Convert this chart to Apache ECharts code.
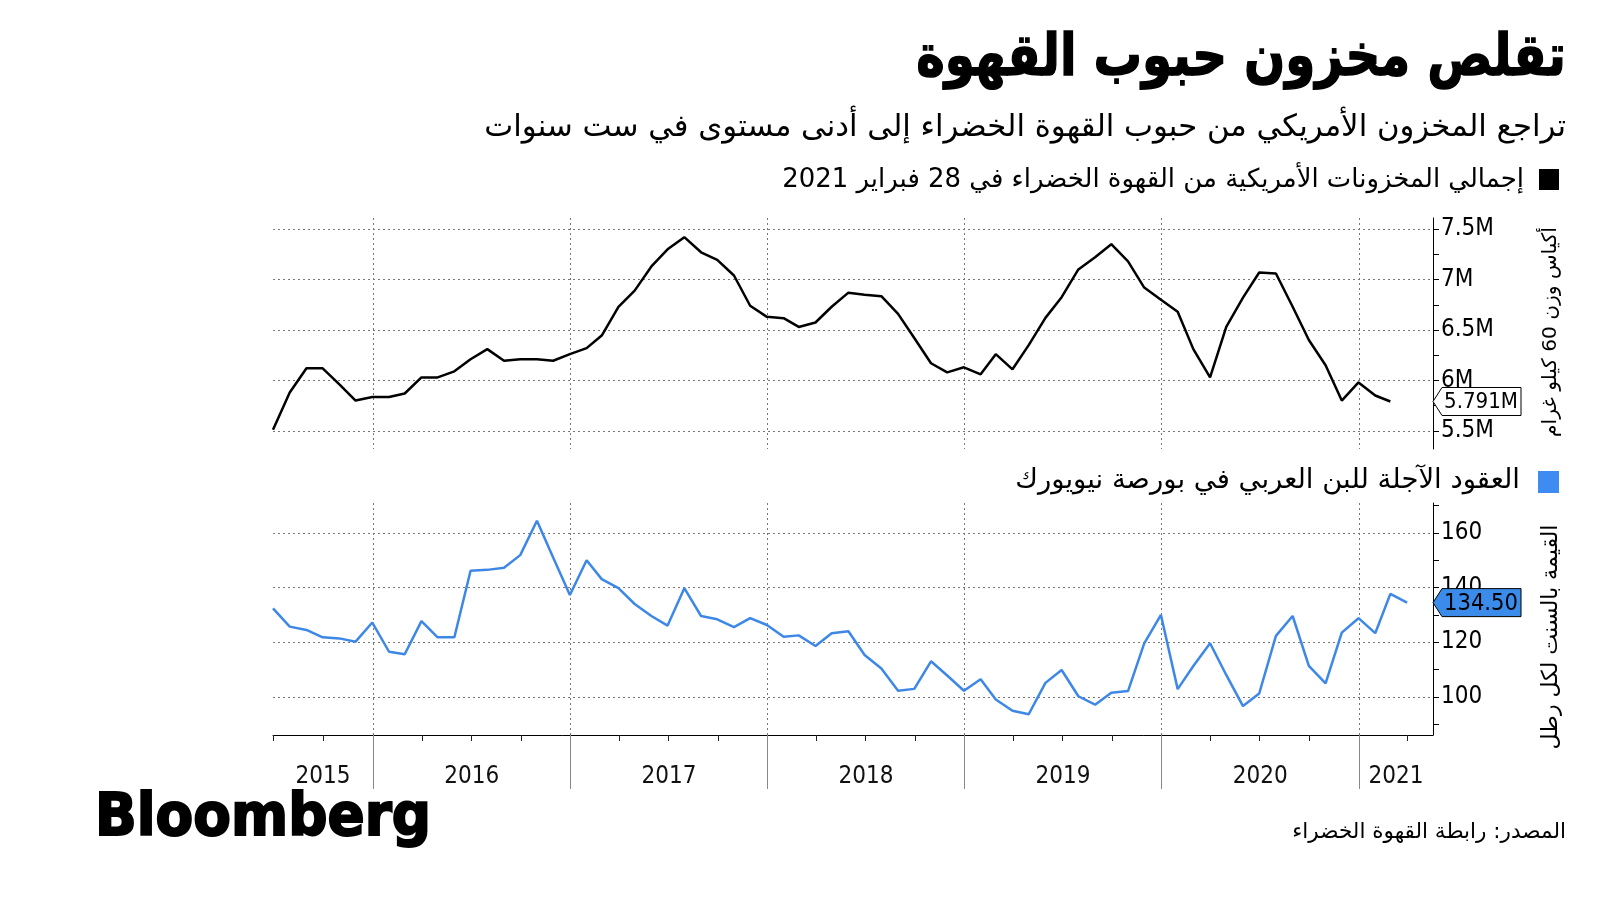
<!DOCTYPE html>
<html><head><meta charset="utf-8">
<script src="https://cdn.jsdelivr.net/npm/echarts@6/dist/echarts.min.js"></script>
<style>html,body{margin:0;padding:0;background:#fff}#c{width:1600px;height:900px}</style>
</head><body><div id="c"></div>
<script>
// ---------------- DATA ----------------
const months = [
  '2015-06','2015-07','2015-08','2015-09','2015-10','2015-11','2015-12',
  '2016-01','2016-02','2016-03','2016-04','2016-05','2016-06','2016-07','2016-08','2016-09','2016-10','2016-11','2016-12',
  '2017-01','2017-02','2017-03','2017-04','2017-05','2017-06','2017-07','2017-08','2017-09','2017-10','2017-11','2017-12',
  '2018-01','2018-02','2018-03','2018-04','2018-05','2018-06','2018-07','2018-08','2018-09','2018-10','2018-11','2018-12',
  '2019-01','2019-02','2019-03','2019-04','2019-05','2019-06','2019-07','2019-08','2019-09','2019-10','2019-11','2019-12',
  '2020-01','2020-02','2020-03','2020-04','2020-05','2020-06','2020-07','2020-08','2020-09','2020-10','2020-11','2020-12',
  '2021-01','2021-02','2021-03'
];
// US green coffee stocks, million 60-kg bags (Jun 2015 - Feb 2021)
const stockValues = [
  5.51, 5.88, 6.12, 6.12, 5.96, 5.80, 5.835,
  5.835, 5.87, 6.03, 6.03, 6.09, 6.21, 6.31, 6.195, 6.21, 6.21, 6.195, 6.26,
  6.32, 6.445, 6.73, 6.89, 7.13, 7.30, 7.42, 7.27, 7.195, 7.04, 6.74, 6.63,
  6.617, 6.53, 6.574, 6.73, 6.87, 6.85, 6.835, 6.66, 6.42, 6.17, 6.08, 6.13,
  6.06, 6.26, 6.11, 6.35, 6.62, 6.825, 7.10, 7.22, 7.35, 7.18, 6.92, 6.80,
  6.68, 6.31, 6.03, 6.53, 6.82, 7.07, 7.06, 6.73, 6.40, 6.15, 5.80, 5.98,
  5.85, 5.791
];
// NY arabica futures, US cents per pound (Jun 2015 - Mar 2021)
const futuresValues = [
  132.4, 125.7, 124.5, 121.8, 121.4, 120.2, 127.2,
  116.5, 115.6, 127.7, 121.8, 121.8, 146.2, 146.5, 147.3, 151.9, 164.5, 151.0, 137.3,
  150.0, 143.1, 139.8, 134.0, 129.6, 126.1, 139.8, 129.6, 128.4, 125.5, 128.8, 126.3,
  122.0, 122.5, 118.6, 123.3, 124.0, 115.3, 110.4, 102.2, 102.9, 113.0, 107.8, 102.2,
  106.4, 99.0, 94.9, 93.6, 105.1, 109.8, 100.2, 97.1, 101.5, 102.1, 119.6, 130.0,
  102.8, 111.3, 119.6, 108.0, 96.6, 101.2, 122.3, 129.6, 111.3, 104.9, 123.5, 128.8,
  123.3, 137.7, 134.5
];
const stockTicks = [5.5, 5.75, 6, 6.25, 6.5, 6.75, 7, 7.25, 7.5];
const stockLabels = [5.5, 6, 6.5, 7, 7.5];
const futuresTicks = [90, 100, 110, 120, 130, 140, 150, 160, 170];
const futuresLabels = [100, 120, 140, 160];
const yearLabels = ['2015', '2016', '2017', '2018', '2019', '2020', '2021'];
const stockLastLabel = '5.791M';
const futuresLastLabel = '134.50';

const titleText = 'تقلص مخزون حبوب القهوة';
const subtitleText = 'تراجع المخزون الأمريكي من حبوب القهوة الخضراء إلى أدنى مستوى في ست سنوات';
const legend1Text = 'إجمالي المخزونات الأمريكية من القهوة الخضراء في 28 فبراير 2021';
const legend2Text = 'العقود الآجلة للبن العربي في بورصة نيويورك';
const axis1Name = 'أكياس وزن 60 كيلو غرام';
const axis2Name = 'القيمة بالسنت لكل رطل';
const sourceText = 'المصدر: رابطة القهوة الخضراء';
const logoText = 'Bloomberg';

// ---------------- HELPERS ----------------
function monthEnd(m) { const [y, mo] = m.split('-').map(Number); return new Date(y, mo, 0).getTime(); }
const xMin = monthEnd('2015-06');
const xMax = new Date(2021, 4, 18).getTime();
const years = yearLabels.map(Number);
const yearStarts = years.slice(1).map(y => new Date(y, 0, 1).getTime());
const quarterStarts = [];
years.forEach(y => [0, 3, 6, 9].forEach(q => { const t = new Date(y, q, 1).getTime(); if (t >= xMin && t <= xMax) quarterStarts.push(t); }));
const yearMids = years.map(y => {
  const s = Math.max(new Date(y, 0, 1).getTime(), xMin);
  const e = Math.min(new Date(y + 1, 0, 1).getTime(), xMax);
  return Math.round((s + e) / 2);
});
const stockData = stockValues.map((v, i) => [monthEnd(months[i]), v]);
const futuresData = futuresValues.map((v, i) => [monthEnd(months[i]), v]);

const NARROW = '"Liberation Sans Narrow", "DejaVu Sans Condensed", sans-serif';
const AR = '"DejaVu Sans", sans-serif';
const GRID_COLOR = '#777';
const BLUE = '#3d87e6';

const gridL = 273, gridR = 167;
const chart = echarts.init(document.getElementById('c'));

function hiddenXAxis(gridIndex, extra) {
  return Object.assign({
    type: 'value', gridIndex, min: xMin, max: xMax, position: 'bottom',
    axisLine: { show: false, onZero: false }, axisTick: { show: false }, axisLabel: { show: false }, splitLine: { show: false }
  }, extra);
}
const dotted = { show: true, lineStyle: { color: GRID_COLOR, type: [2, 3], width: 1 } };

const option = {
  animation: false,
  backgroundColor: '#fff',
  grid: [
    { left: gridL, right: gridR, top: 218, height: 231 },
    { left: gridL, right: gridR, top: 503, height: 232 }
  ],
  xAxis: [
    hiddenXAxis(0, { axisTick: { show: false, customValues: yearStarts }, splitLine: dotted }),
    hiddenXAxis(1, {
      axisLine: { show: true, onZero: false, lineStyle: { color: '#000', width: 1 } },
      axisTick: { show: true, customValues: quarterStarts, length: 6, lineStyle: { color: '#222' } }
    }),
    hiddenXAxis(1, {
      axisTick: { show: true, customValues: yearStarts, length: 54, lineStyle: { color: '#888', width: 1 } },
      axisLabel: {
        show: true, customValues: yearMids, margin: 30,
        formatter: v => { const i = yearMids.indexOf(Math.round(v)); return i >= 0 ? yearLabels[i] : ''; },
        fontFamily: NARROW, fontSize: 24, color: '#111'
      },
      splitLine: dotted
    })
  ],
  yAxis: [
    {
      type: 'value', gridIndex: 0, position: 'right', min: 5.32, max: 7.61,
      axisLine: { show: true, lineStyle: { color: '#000', width: 1 } },
      axisTick: { show: true, customValues: stockTicks, length: 6, lineStyle: { color: '#000' } },
      axisLabel: { show: true, customValues: stockLabels, margin: 8, formatter: v => v + 'M', fontFamily: NARROW, fontSize: 24, color: '#000' },
      splitLine: { show: false }
    },
    {
      type: 'value', gridIndex: 0, position: 'right', min: 5.32, max: 7.61,
      axisLine: { show: false }, axisTick: { show: false, customValues: stockLabels }, axisLabel: { show: false },
      splitLine: dotted
    },
    {
      type: 'value', gridIndex: 1, position: 'right', min: 86, max: 171,
      axisLine: { show: true, lineStyle: { color: '#000', width: 1 } },
      axisTick: { show: true, customValues: futuresTicks, length: 6, lineStyle: { color: '#000' } },
      axisLabel: { show: true, customValues: futuresLabels, margin: 8, fontFamily: NARROW, fontSize: 24, color: '#000' },
      splitLine: { show: false }
    },
    {
      type: 'value', gridIndex: 1, position: 'right', min: 86, max: 171,
      axisLine: { show: false }, axisTick: { show: false, customValues: futuresLabels }, axisLabel: { show: false },
      splitLine: dotted
    }
  ],
  series: [
    { type: 'line', xAxisIndex: 0, yAxisIndex: 0, data: stockData, showSymbol: false, lineStyle: { color: '#000', width: 2.5 }, itemStyle: { color: '#000' }, z: 5 },
    { type: 'line', xAxisIndex: 1, yAxisIndex: 2, data: futuresData, showSymbol: false, lineStyle: { color: BLUE, width: 2.5 }, itemStyle: { color: BLUE }, z: 5 }
  ]
};
chart.setOption(option);

// ---------- text fitting ----------
const mctx = document.createElement('canvas').getContext('2d');
function fit(text, weight, family, targetW, maxSize) {
  mctx.font = weight + ' 100px ' + family;
  const w = mctx.measureText(text).width;
  return Math.min(maxSize, 100 * targetW / w);
}
function txt(text, x, y, size, opts) {
  return {
    type: 'text', x, y, z: 100,
    style: Object.assign({ text, fontSize: size, fontFamily: AR, fill: '#000', align: 'right', verticalAlign: 'middle' }, opts || {})
  };
}
function tag(finder, xv, yv, label, fill) {
  const p = chart.convertToPixel(finder, [xv, yv]);
  const tx = p[0], ty = p[1];
  const h = 14, w = 88;
  return [
    { type: 'polygon', z: 110, shape: { points: [[tx, ty], [tx + 9, ty - h], [tx + w, ty - h], [tx + w, ty + h], [tx + 9, ty + h]] },
      style: { fill, stroke: '#000', lineWidth: 1 } },
    { type: 'text', z: 111, x: tx + 11, y: ty + 1,
      style: { text: label, fontSize: fit(label, 'normal', NARROW, 74, 24), fontFamily: NARROW, fill: '#000', align: 'left', verticalAlign: 'middle' } }
  ];
}

const RX = 1566;
const titleEl = txt(titleText, RX, 60, fit(titleText, 'bold', AR, 650, 64), { fontWeight: 'bold', stroke: '#000', lineWidth: 1.2 });
titleEl.scaleY = 1.2;
const logoEl = txt(logoText, 95, 820, fit(logoText, 'bold', '"DejaVu Sans"', 336, 62), { fontFamily: '"DejaVu Sans", sans-serif', fontWeight: 'bold', align: 'left', stroke: '#000', lineWidth: 2 });
logoEl.scaleY = 1.08;
const ax1 = txt(axis1Name, 1551, 332, fit(axis1Name, 'normal', AR, 210, 28), { align: 'center' });
const ax2 = txt(axis2Name, 1551, 637, fit(axis2Name, 'normal', AR, 225, 28), { align: 'center' });
ax1.rotation = Math.PI / 2;
ax2.rotation = Math.PI / 2;
const graphics = [
  titleEl,
  txt(subtitleText, RX, 128, fit(subtitleText, 'normal', AR, 1082, 36)),
  { type: 'rect', z: 100, shape: { x: 1539, y: 169, width: 20, height: 21 }, style: { fill: '#000' } },
  txt(legend1Text, 1524, 180, fit(legend1Text, 'normal', AR, 742, 32)),
  { type: 'rect', z: 100, shape: { x: 1538, y: 471, width: 21, height: 22 }, style: { fill: '#3e8cf2' } },
  txt(legend2Text, 1520, 481, fit(legend2Text, 'normal', AR, 505, 32)),
  ax1, ax2,
  txt(sourceText, RX, 832, fit(sourceText, 'normal', AR, 274, 26)),
  logoEl
];
const lastS = stockData[stockData.length - 1];
const lastF = futuresData[futuresData.length - 1];
tag({ xAxisIndex: 0, yAxisIndex: 0 }, xMax, lastS[1], stockLastLabel, '#fff').forEach(g => graphics.push(g));
tag({ xAxisIndex: 1, yAxisIndex: 2 }, xMax, lastF[1], futuresLastLabel, '#3b8beb').forEach(g => graphics.push(g));
chart.setOption({ graphic: graphics });
</script>
</body></html>
